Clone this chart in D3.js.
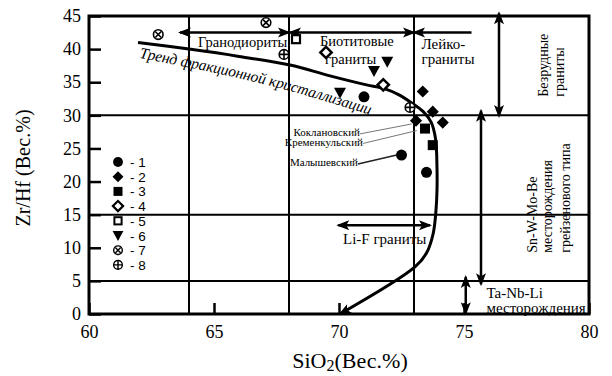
<!DOCTYPE html>
<html>
<head>
<meta charset="utf-8">
<script src="https://cdn.jsdelivr.net/npm/d3@7"></script>
<style>
  body { margin: 0; background: #fff; }
  svg { display: block; }
  text { font-family: "Liberation Serif", "Times New Roman", serif; fill: #000; }
</style>
</head>
<body>
<svg width="612" height="376"></svg>
<script>
'use strict';

// points as [SiO2, Zr/Hf]
const series1 = [[71.0, 32.8], [72.5, 24.0], [73.5, 21.4]];
const series2 = [[73.35, 33.6], [73.75, 30.55], [74.15, 28.9], [73.08, 29.2]];
const series3 = [[73.44, 28.0], [73.75, 25.5]];
const series4 = [[69.48, 39.5], [71.77, 34.6]];
const series5 = [[68.28, 41.5]];
const series6 = [[70.04, 33.4], [71.4, 36.7], [71.93, 38.1]];
const series7 = [[62.77, 42.2], [67.08, 44.0]];
const series8 = [[67.8, 39.2], [72.84, 31.2]];

const trend = [[61.96, 41.0], [64.0, 40.0], [66.0, 38.9], [68.04, 37.6], [69.6, 36.0],
  [71.1, 34.6], [71.84, 34.0], [72.4, 33.1], [72.9, 31.9], [73.36, 30.6], [73.68, 29.0],
  [73.86, 26.5], [73.92, 22.0], [73.92, 18.7], [73.88, 15.7], [73.77, 12.2], [73.5, 9.2],
  [73.04, 7.1], [70.04, 0.0]];

const xTicks = [60, 65, 70, 75, 80];
const yTicks = [0, 5, 10, 15, 20, 25, 30, 35, 40, 45];
const vLines = [64, 68, 73];
const hLines = [5, 15, 30];
const legendLabels = ['- 1', '- 2', '- 3', '- 4', '- 5', '- 6', '- 7', '- 8'];

const svg = d3.select('svg');
const x = d3.scaleLinear().domain([60, 80]).range([89, 589]);
const y = d3.scaleLinear().domain([0, 45]).range([314, 16]);

const defs = svg.append('defs');
defs.append('marker')
    .attr('id', 'head')
    .attr('viewBox', '-13 -6 16 12')
    .attr('refX', 0).attr('refY', 0)
    .attr('markerWidth', 16).attr('markerHeight', 12)
    .attr('markerUnits', 'userSpaceOnUse')
    .attr('orient', 'auto-start-reverse')
  .append('path')
    .attr('d', 'M2,0L-11,-5L-8,0L-11,5Z')
    .attr('fill', '#000');

// grid lines
svg.append('g').selectAll('line').data(vLines).enter().append('line')
    .attr('x1', d => x(d)).attr('x2', d => x(d))
    .attr('y1', y(0)).attr('y2', y(45))
    .attr('stroke', '#000').attr('stroke-width', 2);
svg.append('g').selectAll('line').data(hLines).enter().append('line')
    .attr('x1', x(60)).attr('x2', x(80))
    .attr('y1', d => y(d)).attr('y2', d => y(d))
    .attr('stroke', '#000').attr('stroke-width', 2);

// axes
const yAxisG = svg.append('g')
    .attr('transform', `translate(${x(60)},0)`)
    .call(d3.axisLeft(y).tickValues(yTicks).tickSizeInner(-12).tickSizeOuter(0).tickPadding(8));
const xAxisG = svg.append('g')
    .attr('transform', `translate(0,${y(0)})`)
    .call(d3.axisBottom(x).tickValues(xTicks).tickSizeInner(-11).tickSizeOuter(0).tickPadding(11));
[yAxisG, xAxisG].forEach(a => {
  a.attr('font-family', null);
  a.select('.domain').remove();
  a.selectAll('line').attr('stroke-width', 2.5);
  a.selectAll('text')
      .style('font-family', '"Liberation Serif", serif')
      .style('font-size', '18px');
});

// frame
svg.append('rect')
    .attr('x', x(60)).attr('y', y(45))
    .attr('width', x(80) - x(60)).attr('height', y(0) - y(45))
    .attr('fill', 'none').attr('stroke', '#000').attr('stroke-width', 3);

// arrows
const arrow = (x1, y1, x2, y2, both = true) => svg.append('line')
    .attr('x1', x(x1)).attr('y1', y(y1)).attr('x2', x(x2)).attr('y2', y(y2))
    .attr('stroke', '#000').attr('stroke-width', 2.5)
    .attr('marker-start', both ? 'url(#head)' : null)
    .attr('marker-end', 'url(#head)');

arrow(63.64, 42.5, 68.0, 42.5);
arrow(68.04, 42.5, 73.0, 42.5);
arrow(75.3, 42.5, 73.0, 42.5, false);
arrow(76.4, 45.4, 76.4, 29.9);
arrow(75.68, 30.7, 75.68, 4.5);
arrow(75.07, 5.6, 75.07, 0.1);
arrow(69.97, 13.4, 73.64, 13.4);

// trend line
svg.append('path')
    .datum(trend)
    .attr('d', d3.line().x(d => x(d[0])).y(d => y(d[1])).curve(d3.curveCatmullRom))
    .attr('fill', 'none').attr('stroke', '#000').attr('stroke-width', 3)
    .attr('marker-end', 'url(#head)');

// trend label
defs.append('path')
    .attr('id', 'trendText')
    .datum([[62.0, 38.7], [67.0, 34.7], [72.0, 29.2]])
    .attr('d', d3.line().x(d => x(d[0])).y(d => y(d[1])).curve(d3.curveNatural));
svg.append('text')
    .style('font-style', 'italic').style('font-size', '15.5px')
  .append('textPath')
    .attr('href', '#trendText')
    .attr('textLength', 238)
    .attr('lengthAdjust', 'spacing')
    .text('Тренд фракционной кристаллизации');

// leader lines for deposits
const leaders = [
  { name: 'Коклановский', from: [70.84, 27.2], to: [72.91, 28.7], ty: 26.9, c: '#777', w: 1 },
  { name: 'Кременкульский', from: [70.96, 25.75], to: [73.11, 27.7], ty: 25.4, c: '#777', w: 1 },
  { name: 'Малышевский', from: [70.76, 22.65], to: [72.31, 24.0], ty: 22.3, c: '#222', w: 1.6 }
];
leaders.forEach(l => {
  svg.append('line')
      .attr('x1', x(l.from[0])).attr('y1', y(l.from[1]))
      .attr('x2', x(l.to[0])).attr('y2', y(l.to[1]))
      .attr('stroke', l.c).attr('stroke-width', l.w);
  svg.append('text')
      .attr('x', x(l.from[0])).attr('y', y(l.ty))
      .attr('text-anchor', 'end')
      .style('font-size', '11px')
      .text(l.name);
});

// field labels
const label = (tx, ty, str, size = 15) => svg.append('text')
    .attr('x', x(tx)).attr('y', y(ty))
    .style('font-size', size + 'px')
    .text(str);
label(64.36, 40.3, 'Гранодиориты', 14.5);
label(69.24, 40.4, 'Биотитовые', 14.5);
label(69.44, 37.8, 'граниты', 14.5);
label(73.3, 40.0, 'Лейко-');
label(73.3, 37.7, 'граниты');
label(70.16, 10.6, 'Li-F граниты');
label(75.9, 2.4, 'Ta-Nb-Li');
label(75.9, 0.15, 'месторождения');

const vlabel = (tx, ty, str) => svg.append('text')
    .attr('transform', `translate(${x(tx)},${y(ty)}) rotate(-90)`)
    .style('font-size', '14px')
    .text(str);
vlabel(78.35, 32.8, 'Безрудные');
vlabel(78.98, 32.8, 'граниты');
vlabel(77.9, 9.25, 'Sn-W-Mo-Be');
vlabel(78.52, 9.25, 'месторождения');
vlabel(79.25, 9.25, 'грейзенового типа');

// axis titles
svg.append('text')
    .attr('transform', 'translate(30,168) rotate(-90)')
    .attr('text-anchor', 'middle')
    .style('font-size', '20px')
    .text('Zr/Hf (Вес.%)');
const xt = svg.append('text')
    .attr('x', 350).attr('y', 368)
    .attr('text-anchor', 'middle')
    .style('font-size', '22px');
xt.append('tspan').text('SiO');
xt.append('tspan').attr('dy', 3).style('font-size', '16px').text('2');
xt.append('tspan').attr('dy', -3).text('(Вес.%)');

// symbols
const sym = {
  1: g => g.append('circle').attr('r', 5.5).attr('fill', '#000'),
  2: g => g.append('rect').attr('x', -4.3).attr('y', -4.3).attr('width', 8.6).attr('height', 8.6)
      .attr('transform', 'rotate(45)').attr('fill', '#000'),
  3: g => g.append('rect').attr('x', -5).attr('y', -5).attr('width', 10).attr('height', 10).attr('fill', '#000'),
  4: g => g.append('rect').attr('x', -4).attr('y', -4).attr('width', 8).attr('height', 8)
      .attr('transform', 'rotate(45)').attr('fill', '#fff').attr('stroke', '#000').attr('stroke-width', 2.5),
  5: g => g.append('rect').attr('x', -4).attr('y', -4).attr('width', 8).attr('height', 8)
      .attr('fill', '#fff').attr('stroke', '#000').attr('stroke-width', 2.2),
  6: g => g.append('path').attr('d', 'M-6,-5L6,-5L0,6Z').attr('fill', '#000'),
  7: g => {
    g.append('circle').attr('r', 4.8).attr('fill', '#fff').attr('stroke', '#000').attr('stroke-width', 1.6);
    g.append('path').attr('d', 'M-3,-3L3,3M-3,3L3,-3').attr('stroke', '#000').attr('stroke-width', 1.6);
  },
  8: g => {
    g.append('circle').attr('r', 4.8).attr('fill', '#fff').attr('stroke', '#000').attr('stroke-width', 1.6);
    g.append('path').attr('d', 'M-4.8,0L4.8,0M0,-4.8L0,4.8').attr('stroke', '#000').attr('stroke-width', 1.6);
  }
};

const allSeries = [series1, series2, series3, series4, series5, series6, series7, series8];
allSeries.forEach((s, i) => {
  svg.append('g').selectAll('g').data(s).enter().append('g')
      .attr('transform', d => `translate(${x(d[0])},${y(d[1])})`)
      .each(function () { sym[i + 1](d3.select(this)); });
});

// legend
const legend = svg.append('g');
legendLabels.forEach((t, i) => {
  const row = legend.append('g').attr('transform', `translate(118,${162 + i * 14.7})`);
  sym[i + 1](row.append('g').attr('transform', 'scale(0.9)'));
  row.append('text')
      .attr('x', 12).attr('y', 5)
      .style('font-family', '"Liberation Sans", Arial, sans-serif')
      .style('font-size', '13.5px')
      .text(t);
});
</script>
</body>
</html>
